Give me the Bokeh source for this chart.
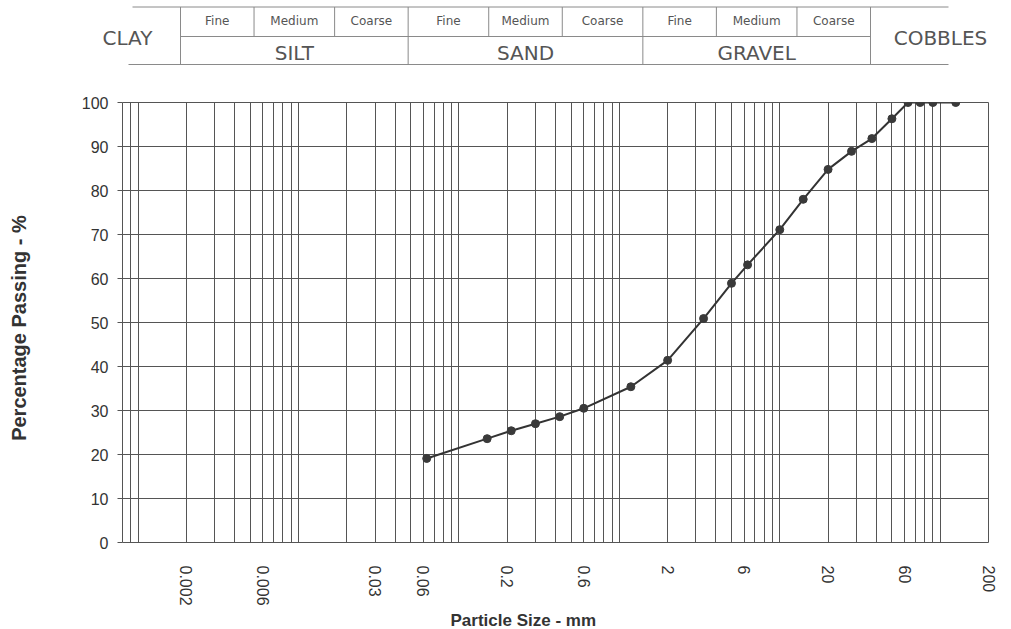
import math
from bokeh.plotting import figure
from bokeh.layouts import column
from bokeh.models import Range1d, FixedTicker, Title, ColumnDataSource
from bokeh.embed import file_html
from bokeh.resources import INLINE
from bokeh.core.properties import value

# ---------------- data ----------------
sieve_mm = [0.063, 0.15, 0.212, 0.3, 0.425, 0.6, 1.18, 2, 3.35, 5, 6.3,
            10, 14, 20, 28, 37.5, 50, 63, 75, 90, 125]
passing_pct = [19.1, 23.6, 25.4, 27.0, 28.6, 30.5, 35.4, 41.4, 50.9, 58.9, 63.1,
               71.1, 78.0, 84.8, 88.9, 91.8, 96.3, 100, 100, 100, 100]

x_tick_values = [0.002, 0.006, 0.03, 0.06, 0.2, 0.6, 2, 6, 20, 60, 200]
x_tick_labels = ["0.002", "0.006", "0.03", "0.06", "0.2", "0.6", "2", "6", "20", "60", "200"]
y_tick_values = [0, 10, 20, 30, 40, 50, 60, 70, 80, 90, 100]

main_classes = ["CLAY", "SILT", "SAND", "GRAVEL", "COBBLES"]
class_bounds = [0.002, 0.06, 2, 60]
sub_classes = ["Fine", "Medium", "Coarse"]
silt_bounds = [0.002, 0.006, 0.02, 0.06]
sand_bounds = [0.06, 0.2, 0.6, 2]
gravel_bounds = [2, 6, 20, 60]

# ---------------- layout constants ----------------
FONT = "Liberation Sans"
HFONT = "DejaVu Sans"
GRID = "#555555"
TXT = "#333333"
HTXT = "#555555"
HLINE = "#8a8a8a"
W = 1000

# ---------------- header (classification table) ----------------
H1 = 78
dpx = (870 - 180) / math.log10(60 / 0.002)          # px per decade in header
hx0 = 0.002 * 10 ** (-180 / dpx)
hx1 = 60 * 10 ** ((W - 870) / dpx)
h = figure(width=W, height=H1, x_axis_type="log",
           x_range=Range1d(hx0, hx1), y_range=Range1d(H1, 0),
           x_axis_location=None, y_axis_location=None,
           toolbar_location=None, output_backend="svg",
           min_border=0, outline_line_color=None)
h.frame_align = False
h.grid.visible = False

left_top = 0.002 * 10 ** (-(180 - 132) / dpx)
left_bot = 0.002 * 10 ** (-(180 - 128) / dpx)
right_end = 60 * 10 ** ((948 - 870) / dpx)
y_top, y_mid, y_bot = 6.5, 36, 64

seg = dict(x0=[left_top, left_bot, class_bounds[0]],
           x1=[right_end, right_end, class_bounds[-1]],
           y0=[y_top, y_bot, y_mid], y1=[y_top, y_bot, y_mid])
h.segment(x0="x0", y0="y0", x1="x1", y1="y1", source=ColumnDataSource(seg),
          line_color=HLINE, line_width=1)
h.segment(x0=class_bounds, y0=[y_top] * len(class_bounds),
          x1=class_bounds, y1=[y_bot] * len(class_bounds),
          line_color=HLINE, line_width=1)
inner = [b for grp in (silt_bounds, sand_bounds, gravel_bounds) for b in grp[1:-1]]
h.segment(x0=inner, y0=[y_top] * len(inner), x1=inner, y1=[y_mid] * len(inner),
          line_color=HLINE, line_width=1)

sub_x, sub_t = [], []
for grp in (silt_bounds, sand_bounds, gravel_bounds):
    for i, name in enumerate(sub_classes):
        sub_x.append(math.sqrt(grp[i] * grp[i + 1]))
        sub_t.append(name)
h.text(x=sub_x, y=[20] * len(sub_x), text=sub_t, text_align="center",
       text_baseline="middle", text_font=value(HFONT), text_font_size="12px",
       text_color=HTXT)

mid_x = [math.sqrt(class_bounds[i] * class_bounds[i + 1]) for i in range(3)]
h.text(x=mid_x, y=[52] * 3, text=main_classes[1:4], text_align="center",
       text_baseline="middle", text_font=value(HFONT), text_font_size="20px",
       text_color=HTXT)
clay_x = class_bounds[0] * 10 ** (-(180 - 127) / dpx)
cobb_x = class_bounds[-1] * 10 ** ((940 - 870) / dpx)
h.text(x=[clay_x, cobb_x], y=[37, 37], text=[main_classes[0], main_classes[-1]],
       text_align="center", text_baseline="middle", text_font=value(HFONT),
       text_font_size="20px", text_color=HTXT)

# ---------------- main chart ----------------
p = figure(frame_width=866, frame_height=440, x_axis_type="log",
           x_range=Range1d(0.0008, 200), y_range=Range1d(0, 100),
           toolbar_location=None, output_backend="svg",
           min_border_left=122, min_border_right=W - 122 - 866,
           min_border_top=24, min_border_bottom=85,
           outline_line_color=GRID, outline_line_width=1,
           background_fill_color="white", border_fill_color="white")
p.frame_align = False

grid_vals = [m * 10 ** e for e in range(-4, 3) for m in range(1, 10)]
grid_vals = [g for g in grid_vals if 0.0008 * 0.999 <= g <= 200 * 1.001]
p.xgrid.ticker = FixedTicker(ticks=grid_vals)
p.xgrid.grid_line_color = GRID
p.xgrid.grid_line_width = 1
p.ygrid.grid_line_color = GRID
p.ygrid.grid_line_width = 1

p.xaxis.ticker = FixedTicker(ticks=x_tick_values)
p.xaxis.major_label_overrides = {v: l for v, l in zip(x_tick_values, x_tick_labels)}
p.xaxis.major_label_orientation = "vertical"
p.xaxis.major_tick_out = 0
p.xaxis.major_tick_in = 0
p.xaxis.minor_tick_out = 0
p.xaxis.minor_tick_in = 0
p.xaxis.axis_line_color = None
p.xaxis.major_label_standoff = 23
p.xaxis.major_label_text_font = FONT
p.xaxis.major_label_text_font_size = "16px"
p.xaxis.major_label_text_color = TXT

p.yaxis.ticker = FixedTicker(ticks=y_tick_values)
p.yaxis.major_tick_out = 5
p.yaxis.major_tick_in = 0
p.yaxis.minor_tick_out = 0
p.yaxis.minor_tick_in = 0
p.yaxis.major_tick_line_color = GRID
p.yaxis.axis_line_color = None
p.yaxis.major_label_standoff = 9
p.yaxis.major_label_text_font = FONT
p.yaxis.major_label_text_font_size = "16px"
p.yaxis.major_label_text_color = TXT
p.yaxis.axis_label = "Percentage Passing  -  %"
p.yaxis.axis_label_text_font = FONT
p.yaxis.axis_label_text_font_style = "bold"
p.yaxis.axis_label_text_font_size = "20px"
p.yaxis.axis_label_text_color = TXT
p.yaxis.axis_label_standoff = 49

src = ColumnDataSource(dict(size=sieve_mm, passing=passing_pct))
p.line(x="size", y="passing", source=src, line_color="#333333", line_width=2)
p.scatter(x="size", y="passing", source=src, size=8, fill_color="#3a3a3a",
          line_color="#3a3a3a")

xt = Title(text="Particle Size  -  mm", align="left", offset=328,
           text_font=FONT, text_font_style="bold", text_font_size="17px",
           text_color=TXT, standoff=0)
p.add_layout(xt, "below")

layout = column(h, p, spacing=0)
open("out.html", "w").write(file_html(layout, INLINE))
